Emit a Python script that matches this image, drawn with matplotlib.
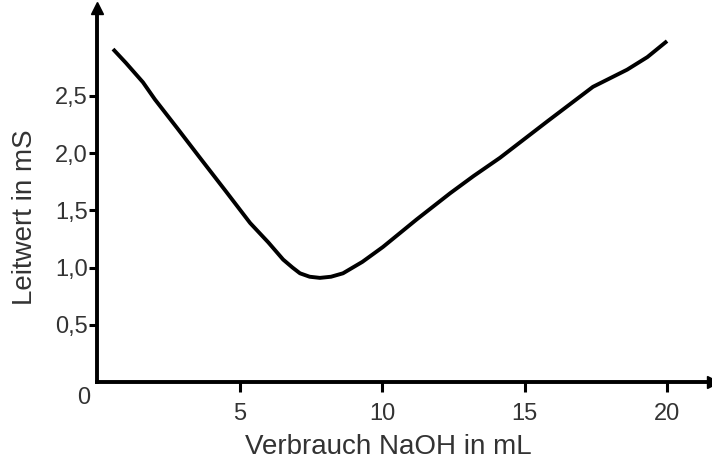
import matplotlib
matplotlib.use("Agg")
import matplotlib.pyplot as plt

plt.rcParams['font.family'] = ['Liberation Sans', 'DejaVu Sans']

# Leitfähigkeitstitration: Verbrauch NaOH (mL) vs. Leitwert (mS)
volumen = [0.55, 1.0, 1.6, 2.02, 2.8, 3.6, 4.5, 5.36, 6.0, 6.52, 6.85, 7.11, 7.45,
           7.81, 8.2, 8.62, 9.3, 10.02, 11.2, 12.38, 13.2, 14.13, 15.8, 17.39,
           18.59, 19.3, 19.99]
leitwert = [2.91, 2.79, 2.62, 2.47, 2.22, 1.96, 1.67, 1.39, 1.22, 1.07, 1.0, 0.95, 0.92,
            0.91, 0.92, 0.95, 1.05, 1.18, 1.42, 1.65, 1.80, 1.96, 2.28, 2.58,
            2.73, 2.84, 2.98]

x_ticks = [5, 10, 15, 20]
y_ticks = [0.5, 1.0, 1.5, 2.0, 2.5]
y_ticklabels = ['0,5', '1,0', '1,5', '2,0', '2,5']

fig = plt.figure(figsize=(7.12, 4.59), dpi=100)
ax = fig.add_axes([0.1367, 0.1678, 0.8646, 0.815])

ax.plot(volumen, leitwert, color='black', lw=2.8, solid_capstyle='butt')

ax.set_xlim(0, 21.6)
ax.set_ylim(0, 3.27)

for s in ['top', 'right']:
    ax.spines[s].set_visible(False)
for s in ['left', 'bottom']:
    ax.spines[s].set_linewidth(2.8)
    ax.spines[s].set_color('black')

# Pfeilspitzen an den Achsen
ax.plot(1, 0, '>', color='black', ms=8, transform=ax.transAxes, clip_on=False)
ax.plot(0, 1, '^', color='black', ms=8, transform=ax.transAxes, clip_on=False)

ax.set_xticks(x_ticks)
ax.set_xticklabels([str(t) for t in x_ticks])
ax.set_yticks(y_ticks)
ax.set_yticklabels(y_ticklabels)
ax.tick_params(axis='x', direction='out', length=7, width=2.2, pad=8,
               labelsize=17, labelcolor='#333333')
ax.tick_params(axis='y', direction='out', length=6, width=2.2, pad=1,
               labelsize=17, labelcolor='#333333')

fig.text(84 / 712, 1 - 398 / 459, '0', fontsize=17, color='#333333',
         ha='center', va='center')
fig.text(388 / 712, 1 - 447 / 459, 'Verbrauch NaOH in mL', fontsize=20,
         color='#333333', ha='center', va='center')
fig.text(25 / 712, 1 - 217 / 459, 'Leitwert in mS', fontsize=20,
         color='#333333', ha='center', va='center', rotation=90)

fig.savefig('out.png', dpi=100)
